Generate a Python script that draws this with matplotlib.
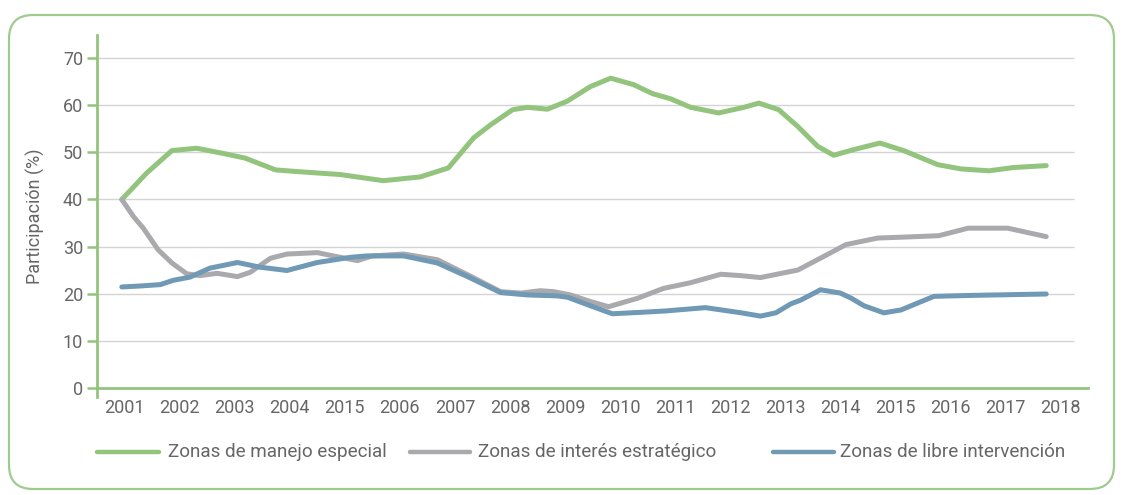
import matplotlib
matplotlib.use("Agg")
import matplotlib.pyplot as plt
from matplotlib.lines import Line2D
from matplotlib.patches import FancyBboxPatch
from matplotlib.transforms import IdentityTransform

plt.rcParams["font.family"] = ["Roboto", "DejaVu Sans"]

years = ["2001", "2002", "2003", "2004", "2015", "2006", "2007", "2008", "2009",
         "2010", "2011", "2012", "2013", "2014", "2015", "2016", "2017", "2018"]
yticks = [0, 10, 20, 30, 40, 50, 60, 70]

# positions in category units (0 = first label)
x_manejo = [-0.05, 0.4, 0.86, 1.31, 1.83, 2.19, 2.74, 3.06, 3.92, 4.7, 5.37, 5.88,
            6.34, 6.65, 7.05, 7.32, 7.68, 8.04, 8.46, 8.83, 9.25, 9.59, 9.92, 10.28,
            10.79, 11.25, 11.52, 11.88, 12.23, 12.59, 12.88, 13.24, 13.72, 14.15,
            14.77, 15.19, 15.7, 16.15, 16.74]
y_manejo = [40.0, 45.6, 50.4, 50.9, 49.7, 48.8, 46.3, 46.0, 45.3, 44.0, 44.8, 46.7,
            53.1, 55.9, 59.1, 59.6, 59.2, 60.9, 64.0, 65.8, 64.4, 62.5, 61.4, 59.6,
            58.4, 59.6, 60.5, 59.1, 55.5, 51.3, 49.4, 50.6, 52.0, 50.4,
            47.4, 46.5, 46.1, 46.8, 47.2]

x_interes = [-0.05, 0.16, 0.34, 0.61, 0.86, 1.13, 1.37, 1.68, 2.05, 2.28, 2.65, 2.95,
             3.5, 3.79, 4.23, 4.5, 5.07, 5.68, 6.23, 6.83, 7.2, 7.55, 7.79, 8.1, 8.46,
             8.79, 9.32, 9.79, 10.28, 10.83, 11.2, 11.55, 12.23, 12.83, 13.1, 13.68,
             14.15, 14.79, 15.32, 16.04, 16.74]
y_interes = [40.0, 36.4, 33.9, 29.3, 26.5, 24.2, 23.8, 24.3, 23.6, 24.5, 27.5, 28.4,
             28.7, 28.0, 27.0, 28.0, 28.4, 27.2, 24.0, 20.4, 20.1, 20.6, 20.4, 19.7, 18.3,
             17.2, 19.0, 21.1, 22.3, 24.1, 23.8, 23.4, 25.0, 28.7, 30.4, 31.8,
             32.0, 32.3, 33.9, 33.9, 32.1]

x_libre = [-0.05, 0.28, 0.65, 0.88, 1.19, 1.55, 2.05, 2.46, 2.95, 3.5, 4.1, 4.4, 5.07,
           5.68, 6.23, 6.83, 7.32, 7.86, 8.05, 8.46, 8.86, 9.37, 9.83, 10.55, 11.2,
           11.55, 11.83, 12.1, 12.28, 12.64, 13.0, 13.2, 13.43, 13.79, 14.1, 14.7,
           15.37, 16.74]
y_libre = [21.4, 21.6, 21.9, 22.8, 23.5, 25.4, 26.6, 25.6, 24.9, 26.6, 27.7, 28.0, 28.0,
           26.5, 23.6, 20.2, 19.7, 19.5, 19.2, 17.4, 15.7, 16.0, 16.3, 17.0, 15.9,
           15.2, 15.9, 17.8, 18.6, 20.8, 20.1, 19.0, 17.4, 15.9, 16.5, 19.4,
           19.6, 19.9]

series = [("Zonas de manejo especial", x_manejo, y_manejo, "#93c47d"),
          ("Zonas de interés estratégico", x_interes, y_interes, "#aaaaae"),
          ("Zonas de libre intervención", x_libre, y_libre, "#6f99b4")]

AXIS_GREEN = "#93c47d"
TXT = "#666666"

fig = plt.figure(figsize=(11.23, 4.95), dpi=100)
ax = fig.add_axes([0.0864, 0.198, 0.8825, 0.7315])

ax.hlines(yticks[1:], -0.5, 17.25, color="#d4d4d4", lw=1.0, zorder=1)
for name, xs, ys, col in series:
    ax.plot(xs, ys, color=col, lw=3.6, solid_capstyle="round",
            solid_joinstyle="round", zorder=3)

ax.set_xlim(-0.5, 17.5)
ax.set_ylim(-2, 75)
ax.set_yticks(yticks)
ax.set_xticks(range(len(years)))
ax.set_xticklabels(years)

for s in ("top", "right"):
    ax.spines[s].set_visible(False)
ax.spines["bottom"].set_position(("data", 0))
for s in ("left", "bottom"):
    ax.spines[s].set_color(AXIS_GREEN)
    ax.spines[s].set_linewidth(2.0)
ax.tick_params(axis="y", length=7, width=1.8, color=AXIS_GREEN, labelsize=13,
               labelcolor=TXT, pad=3)
ax.tick_params(axis="x", length=0, labelsize=13, labelcolor=TXT, pad=8)
ax.set_ylabel("Participación (%)", fontsize=13, color=TXT, labelpad=13)

# legend drawn by hand to keep the uneven spacing
leg_y = 1 - 452 / 495
legend_pos = [(97, 159, 168), (410, 470, 478), (773, 834, 840)]
for (name, _, _, col), (x0, x1, xt) in zip(series, legend_pos):
    fig.add_artist(Line2D([x0 / 1123, x1 / 1123], [leg_y, leg_y], color=col, lw=3.2,
                          solid_capstyle="round"))
    fig.text(xt / 1123, leg_y, name, fontsize=13.6, color=TXT, ha="left", va="center")

frame = FancyBboxPatch((9, 6), 1105, 474, boxstyle="round,pad=0,rounding_size=24",
                       transform=IdentityTransform(), fill=False,
                       edgecolor="#9fcb8e", lw=1.6)
fig.add_artist(frame)

fig.savefig("out.png", dpi=100)
